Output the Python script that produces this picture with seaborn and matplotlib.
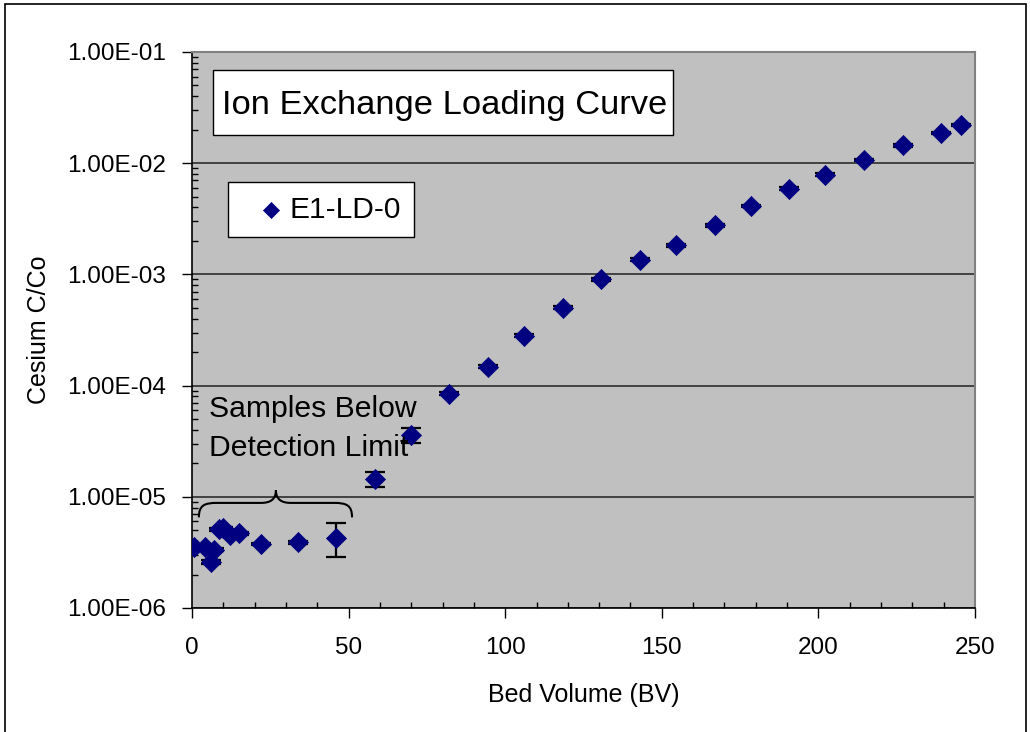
import numpy as np
import pandas as pd
import seaborn as sns
import matplotlib.pyplot as plt
from matplotlib.path import Path
from matplotlib.patches import PathPatch, Rectangle
from matplotlib.ticker import FixedLocator, FuncFormatter, MultipleLocator

# Data
bed_volume = [0.8, 4.0, 6.0, 7.0, 8.5, 10.0, 12.0, 15.0, 22.0, 34.0, 46.0,
              58.4, 70.0, 82.0, 94.4, 106.0, 118.3, 130.6, 143.0, 154.6,
              166.9, 178.6, 190.7, 202.2, 214.6, 226.9, 239.1, 245.4]
c_over_co = [3.5e-6, 3.5e-6, 2.6e-6, 3.35e-6, 5.1e-6, 5.2e-6, 4.5e-6, 4.7e-6,
             3.75e-6, 3.9e-6, 4.3e-6, 1.45e-5, 3.6e-5, 8.45e-5, 1.48e-4,
             2.81e-4, 5.0e-4, 9.0e-4, 1.35e-3, 1.82e-3, 2.77e-3, 4.12e-3,
             5.9e-3, 7.9e-3, 1.07e-2, 1.45e-2, 1.87e-2, 2.2e-2]
err_low = [3.4e-6, 3.4e-6, 2.5e-6, 3.25e-6, 4.95e-6, 5.05e-6, 4.35e-6, 4.55e-6,
           3.65e-6, 3.8e-6, 2.86e-6, 1.22e-5, 3.07e-5, 8.2e-5, 1.44e-4,
           2.73e-4, 4.85e-4, 8.75e-4, 1.31e-3, 1.77e-3, 2.69e-3, 4.0e-3,
           5.73e-3, 7.67e-3, 1.04e-2, 1.41e-2, 1.82e-2, 2.14e-2]
err_high = [3.6e-6, 3.6e-6, 2.7e-6, 3.45e-6, 5.25e-6, 5.35e-6, 4.65e-6, 4.85e-6,
            3.85e-6, 4.0e-6, 5.85e-6, 1.68e-5, 4.18e-5, 8.7e-5, 1.52e-4,
            2.89e-4, 5.15e-4, 9.25e-4, 1.39e-3, 1.87e-3, 2.85e-3, 4.24e-3,
            6.07e-3, 8.13e-3, 1.10e-2, 1.49e-2, 1.92e-2, 2.26e-2]
y_ticks = [1e-6, 1e-5, 1e-4, 1e-3, 1e-2, 1e-1]
series_name = "E1-LD-0"

df = pd.DataFrame({"BV": bed_volume, "CCo": c_over_co})

sns.set_style("white")
plt.rcParams["font.family"] = ["Liberation Sans", "DejaVu Sans"]
plt.rcParams.update({"text.color": "black", "axes.labelcolor": "black",
                     "xtick.color": "black", "ytick.color": "black"})

fig = plt.figure(figsize=(10.3, 7.32), dpi=100)
ax = fig.add_axes([0.1864, 0.1694, 0.7602, 0.7596])
ax.set_facecolor("#C0C0C0")

# Error bars first, markers on top
yerr = np.array([np.array(c_over_co) - np.array(err_low),
                 np.array(err_high) - np.array(c_over_co)])
ax.errorbar(bed_volume, c_over_co, yerr=yerr, fmt="none", ecolor="black",
            elinewidth=1.6, capsize=7, capthick=1.6, zorder=3)
sns.scatterplot(data=df, x="BV", y="CCo", ax=ax, marker="D", s=105,
                color="#000080", edgecolor="#000080", linewidth=0.5,
                label=series_name, zorder=4)

ax.set_yscale("log")
ax.set_xlim(0, 250)
ax.set_ylim(1e-6, 1e-1)

ax.yaxis.set_major_locator(FixedLocator(y_ticks))
ax.yaxis.set_major_formatter(FuncFormatter(lambda v, p: f"{v:.2E}"))
ax.yaxis.set_minor_locator(FixedLocator(
    [m * 10.0 ** e for e in range(-6, -1) for m in range(2, 10)]))
ax.xaxis.set_major_locator(MultipleLocator(50))
ax.xaxis.set_minor_locator(MultipleLocator(10))

ax.tick_params(axis="both", which="major", direction="out", length=7, width=1,
               color="black", labelsize=17.5, labelcolor="black")
ax.tick_params(axis="y", which="major", pad=12)
ax.tick_params(axis="x", which="major", pad=14)
ax.tick_params(axis="both", which="minor", direction="in", length=4, width=1,
               color="black")
ax.tick_params(left=True, bottom=True, which="both")

ax.grid(False)
ax.yaxis.grid(True, which="major", color="#202020", linewidth=1.1)
ax.set_axisbelow(True)

for side in ["left", "bottom"]:
    ax.spines[side].set_color("black")
    ax.spines[side].set_linewidth(1.2)
for side in ["top", "right"]:
    ax.spines[side].set_color("#808080")
    ax.spines[side].set_linewidth(1.5)

ax.set_xlabel("Bed Volume (BV)", fontsize=18)
ax.set_ylabel("Cesium C/Co", fontsize=18)
ax.xaxis.set_label_coords(0.5, -0.135)
ax.yaxis.set_label_coords(-0.18, 0.5)

# Title box inside the plot area
ax.add_patch(Rectangle((0.0268, 0.8507), 0.5875, 0.1169, transform=ax.transAxes,
                       facecolor="white", edgecolor="black", linewidth=1.0,
                       zorder=5))
ax.text(0.3225, 0.8885, "Ion Exchange Loading Curve", transform=ax.transAxes,
        ha="center", va="baseline", fontsize=24.8, zorder=6)

# Legend
leg = ax.legend(loc="upper left", bbox_to_anchor=(0.046, 0.766),
                borderaxespad=0, fontsize=21.5, frameon=True, fancybox=False,
                framealpha=1, edgecolor="black", markerscale=0.8,
                handletextpad=-0.4, borderpad=0.45, handlelength=2.0)
leg.get_frame().set_linewidth(1.0)

# Annotation for the low samples
tr = ax.get_xaxis_transform()
ax.text(5.4, 0.3435, "Samples Below", transform=tr, ha="left", va="baseline",
        fontsize=21.7, zorder=6)
ax.text(5.4, 0.2734, "Detection Limit", transform=tr, ha="left", va="baseline",
        fontsize=21.7, zorder=6)

verts = [(2.2, 0.163), (2.2, 0.185), (4.0, 0.189), (8.0, 0.189),
         (22.0, 0.189),
         (25.0, 0.189), (26.8, 0.195), (26.8, 0.212),
         (26.8, 0.195), (28.6, 0.189), (31.6, 0.189),
         (45.3, 0.189),
         (49.3, 0.189), (51.1, 0.185), (51.1, 0.163)]
codes = ([Path.MOVETO] + [Path.CURVE4] * 3 + [Path.LINETO] + [Path.CURVE4] * 6
         + [Path.LINETO] + [Path.CURVE4] * 3)
ax.add_patch(PathPatch(Path(verts, codes), transform=tr, facecolor="none",
                       edgecolor="black", linewidth=1.5, zorder=6))

# Outer border of the chart area
fig.patches.append(Rectangle((0.005, -0.01), 0.991, 1.005,
                             transform=fig.transFigure, facecolor="none",
                             edgecolor="black", linewidth=1.2))

fig.savefig("out.png", dpi=100)
